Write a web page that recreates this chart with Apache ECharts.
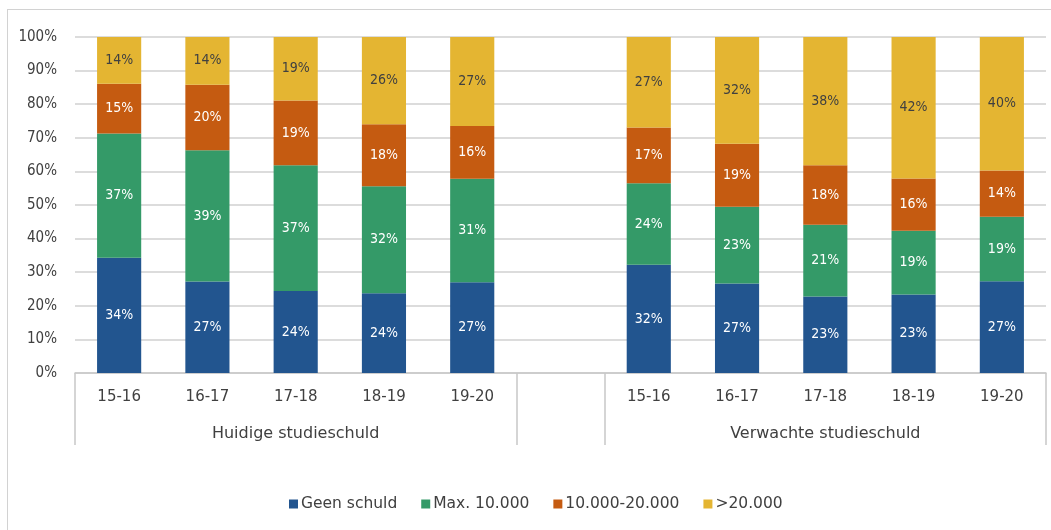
<!DOCTYPE html>
<html>
<head>
<meta charset="utf-8">
<script src="https://cdn.jsdelivr.net/npm/echarts@6/dist/echarts.min.js"></script>
<style>
  html, body { margin: 0; padding: 0; background: #fff; overflow: hidden; }
  #frame { position: absolute; left: 7px; top: 9px; width: 1200px; height: 700px; border: 1.5px solid #d2d2d2; }
  #chart { position: absolute; left: 0; top: 0; width: 1051px; height: 530px; }
</style>
</head>
<body>
<div id="frame"></div>
<div id="chart"></div>
<script>
// categories (empty slot separates the two groups)
const categories = ['15-16', '16-17', '17-18', '18-19', '19-20', '', '15-16', '16-17', '17-18', '18-19', '19-20'];
const groupLabels = ['', '', 'Huidige studieschuld', '', '', '', '', '', 'Verwachte studieschuld', '', ''];
const seriesNames = ['Geen schuld', 'Max. 10.000', '10.000-20.000', '>20.000'];
const geenSchuld = [34.3, 27.2, 24.4, 23.7, 27.0, '-', 32.2, 26.6, 22.8, 23.4, 27.3];
const max10000   = [37.0, 39.1, 37.4, 31.9, 30.8, '-', 24.3, 22.9, 21.3, 18.9, 19.2];
const mid10to20  = [14.8, 19.5, 19.3, 18.4, 15.7, '-', 16.6, 18.7, 17.7, 15.6, 13.8];
const over20000  = [13.9, 14.2, 18.9, 26.0, 26.5, '-', 26.9, 31.8, 38.2, 42.1, 39.7];
const yTicks = [0, 10, 20, 30, 40, 50, 60, 70, 80, 90, 100];

const colors = ['#22558F', '#349A68', '#C55B11', '#E4B532'];
const labelColors = ['#ffffff', '#ffffff', '#ffffff', '#404040'];
const FONT_C = '"DejaVu Sans Condensed", "DejaVu Sans", sans-serif';
const FONT = '"DejaVu Sans", sans-serif';
const TXT = '#404040';

const chart = echarts.init(document.getElementById('chart'), null, { renderer: 'canvas' });
const values = [geenSchuld, max10000, mid10to20, over20000];

const option = {
  animation: false,
  color: colors,
  grid: { left: 75, right: 5, top: 37, bottom: 157, containLabel: false },
  legend: {
    bottom: 13,
    left: 284,
    icon: 'rect',
    itemWidth: 9,
    itemHeight: 9,
    itemGap: 24,
    textStyle: { fontFamily: FONT, fontSize: 15.5, color: TXT, padding: [0, 0, 0, -2] },
    data: seriesNames
  },
  xAxis: [
    {
      type: 'category',
      data: categories,
      position: 'bottom',
      axisLine: { show: true, lineStyle: { color: '#c8c8c8', width: 1.5 } },
      axisTick: {
        show: true,
        length: 72,
        inside: false,
        interval: function (index) { return index === 0 || index === 5 || index === 6; },
        lineStyle: { color: '#c8c8c8', width: 1.5 }
      },
      axisLabel: { interval: 0, margin: 17, fontFamily: FONT, fontSize: 15, color: TXT },
      splitLine: { show: false }
    },
    {
      type: 'category',
      data: groupLabels,
      position: 'bottom',
      offset: 36,
      axisLine: { show: false },
      axisTick: { show: false },
      axisLabel: { interval: 0, margin: 17, fontFamily: FONT, fontSize: 16, color: TXT },
      splitLine: { show: false }
    }
  ],
  yAxis: {
    type: 'value',
    min: 0,
    max: 100,
    interval: 10,
    axisLine: { show: false },
    axisTick: { show: false },
    axisLabel: {
      margin: 18,
      fontFamily: FONT_C, fontSize: 15, color: TXT,
      formatter: function (v) { return yTicks.indexOf(v) >= 0 ? v + '%' : ''; }
    },
    splitLine: { show: true, lineStyle: { color: '#d0d0d0', width: 1.5 } }
  },
  series: seriesNames.map(function (name, i) {
    return {
      name: name,
      type: 'bar',
      stack: 'total',
      xAxisIndex: 0,
      barWidth: '50%',
      data: values[i],
      itemStyle: { color: colors[i] },
      label: {
        show: true,
        position: 'inside',
        fontFamily: FONT_C,
        fontSize: 14,
        color: labelColors[i],
        formatter: function (p) { return Math.round(p.value) + '%'; }
      }
    };
  })
};
chart.setOption(option);
</script>
</body>
</html>
